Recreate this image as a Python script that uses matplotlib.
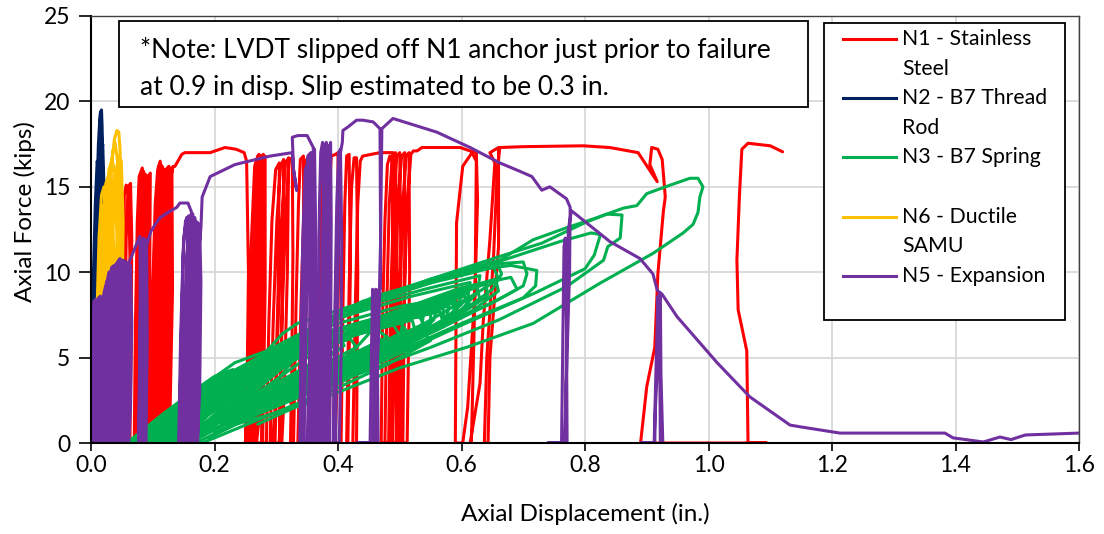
import matplotlib
matplotlib.use("Agg")
import matplotlib.pyplot as plt
from matplotlib.patches import Rectangle
from matplotlib.lines import Line2D
import numpy as np

plt.rcParams['font.family'] = ['Lato', 'DejaVu Sans']

# ---------------------------------------------------------------------------
# Axial displacement (in.) / axial force (kips) traces, one path per anchor
# ---------------------------------------------------------------------------
n1_path = [  # N1 - Stainless Steel
    (0.048, 0), (0.050, 6), (0.052, 11), (0.054, 14.5), (0.057, 15.1), (0.061, 14.8), (0.063, 11), (0.062, 6), (0.059, 0),
    (0.053, 0), (0.055, 7), (0.057, 12), (0.060, 15.0), (0.064, 15.2), (0.066, 12), (0.065, 6), (0.063, 0),
    (0.070, 0), (0.072, 7), (0.075, 13), (0.078, 15.6), (0.083, 16.1), (0.086, 15.4), (0.085, 9), (0.082, 3), (0.079, 0),
    (0.073, 0), (0.076, 8), (0.079, 14), (0.083, 15.8), (0.088, 15.6), (0.089, 9), (0.086, 0),
    (0.074, 0), (0.077, 8), (0.081, 14.5), (0.085, 15.9), (0.089, 15.4), (0.088, 8), (0.084, 0),
    (0.076, 0), (0.079, 7), (0.082, 13), (0.086, 15.6), (0.091, 15.5), (0.092, 9), (0.089, 0),
    (0.078, 0), (0.081, 8), (0.085, 14.5), (0.089, 15.7), (0.093, 15.4), (0.092, 8), (0.088, 0),
    (0.080, 0), (0.083, 8), (0.087, 14), (0.091, 15.5), (0.096, 15.8), (0.095, 9), (0.092, 0),
    (0.082, 0), (0.085, 8), (0.089, 14.5), (0.093, 15.6), (0.095, 9), (0.091, 0),
    (0.096, 0), (0.099, 8), (0.104, 14), (0.108, 16.0), (0.112, 16.5), (0.115, 15.5), (0.113, 8), (0.108, 0),
    (0.098, 0), (0.101, 8), (0.106, 14), (0.110, 16.2), (0.114, 15.6), (0.111, 8), (0.105, 0),
    (0.100, 0), (0.103, 8), (0.108, 14), (0.113, 16.3), (0.118, 16.0), (0.119, 9), (0.114, 0),
    (0.102, 0), (0.106, 8), (0.110, 14), (0.115, 16.2), (0.117, 12), (0.116, 6), (0.111, 0),
    (0.104, 0), (0.108, 9), (0.112, 14.5), (0.117, 16.0), (0.121, 16.0), (0.123, 9), (0.118, 0),
    (0.106, 0), (0.110, 8), (0.114, 14), (0.119, 16.0), (0.121, 12), (0.120, 6), (0.116, 0),
    (0.108, 0), (0.112, 9), (0.117, 15), (0.121, 16.0), (0.126, 16.2), (0.127, 9), (0.122, 0),
    (0.110, 0), (0.114, 8), (0.119, 14), (0.124, 16.0), (0.125, 12), (0.124, 6), (0.120, 0),
    (0.112, 0), (0.116, 9), (0.121, 15), (0.127, 16.0), (0.131, 16.1), (0.132, 9), (0.127, 0),
    (0.114, 0), (0.118, 8), (0.123, 14), (0.128, 16.1), (0.129, 12), (0.128, 6), (0.124, 0),
    (0.116, 0), (0.120, 9), (0.126, 15), (0.133, 16.2), (0.136, 16.2),
    (0.147, 16.9), (0.152, 17.0), (0.193, 17.0), (0.217, 17.3), (0.235, 17.2), (0.248, 17.0),
    (0.252, 16.5), (0.255, 10), (0.253, 4), (0.250, 0), (0.256, 0), (0.260, 6), (0.264, 12), (0.268, 16.5),
    (0.272, 16.9), (0.272, 10), (0.268, 3), (0.262, 0), (0.258, 0), (0.262, 7), (0.268, 13), (0.274, 16.7),
    (0.279, 16.9), (0.278, 10), (0.274, 2), (0.268, 0), (0.263, 0), (0.267, 6), (0.272, 12), (0.277, 16.2),
    (0.282, 16.8), (0.282, 9), (0.278, 0),
    (0.251, 0), (0.255, 6), (0.260, 12), (0.265, 16.2), (0.270, 16.8), (0.269, 10), (0.265, 3), (0.259, 0),
    (0.254, 0), (0.258, 6), (0.263, 12), (0.268, 16.3), (0.274, 16.8), (0.275, 10), (0.271, 2), (0.265, 0),
    (0.260, 0), (0.264, 6), (0.269, 12), (0.274, 16.2), (0.279, 16.7), (0.280, 9), (0.276, 0),
    (0.284, 0), (0.288, 7), (0.293, 13), (0.299, 16.0), (0.305, 16.4), (0.303, 9), (0.298, 2), (0.294, 0),
    (0.290, 0), (0.295, 7), (0.301, 13), (0.307, 16.2), (0.312, 16.6), (0.310, 9), (0.305, 0),
    (0.298, 0), (0.303, 7), (0.309, 13), (0.315, 16.4), (0.320, 16.7), (0.318, 10), (0.313, 3), (0.309, 0),
    (0.305, 0), (0.310, 8), (0.316, 14), (0.321, 16.6), (0.326, 16.7),
    (0.327, 11), (0.325, 4), (0.323, 0), (0.328, 0), (0.332, 8), (0.336, 14), (0.339, 16.6), (0.344, 16.8),
    (0.345, 10), (0.342, 3), (0.338, 0), (0.335, 0), (0.340, 8), (0.345, 14), (0.349, 16.6), (0.354, 16.7),
    (0.356, 10), (0.352, 0),
    (0.368, 0), (0.370, 8), (0.372, 14), (0.376, 16.6), (0.380, 16.8), (0.384, 17.0), (0.388, 10), (0.386, 0),
    (0.378, 0), (0.382, 8), (0.385, 14), (0.389, 16.8), (0.396, 16.9), (0.400, 17.0), (0.401, 10), (0.398, 3), (0.395, 0),
    (0.405, 0), (0.408, 8), (0.411, 14), (0.414, 16.8), (0.418, 16.9), (0.420, 10), (0.416, 0),
    (0.414, 0), (0.418, 9), (0.422, 15), (0.426, 16.7), (0.430, 16.7), (0.432, 10), (0.430, 0),
    (0.424, 0), (0.428, 8), (0.432, 14), (0.436, 16.5), (0.440, 16.8), (0.468, 17.0), (0.489, 17.0),
    (0.490, 10), (0.487, 3), (0.484, 0), (0.470, 0), (0.472, 7), (0.476, 13), (0.480, 16.3), (0.484, 16.8),
    (0.488, 16.5), (0.490, 10), (0.488, 0), (0.476, 0), (0.479, 8), (0.483, 14), (0.488, 16.8), (0.493, 17.0),
    (0.496, 10), (0.494, 0), (0.482, 0), (0.485, 8), (0.490, 14), (0.495, 16.8), (0.500, 17.0), (0.502, 10),
    (0.499, 0), (0.488, 0), (0.492, 8), (0.497, 14), (0.503, 16.8), (0.508, 17.0), (0.508, 10), (0.505, 0),
    (0.495, 0), (0.499, 8), (0.505, 14), (0.510, 16.8), (0.515, 17.0), (0.516, 10), (0.512, 0),
    (0.502, 0), (0.507, 8), (0.512, 14), (0.518, 16.9), (0.522, 17.1), (0.528, 17.1), (0.536, 17.3),
    (0.598, 17.3), (0.614, 17.1),
    (0.624, 17.0), (0.626, 14.2), (0.622, 9.0), (0.610, 2.1), (0.602, 0), (0.590, 0), (0.591, 6),
    (0.592, 12.9), (0.602, 16.2), (0.617, 17.0),
    (0.624, 16.5), (0.622, 9), (0.616, 0), (0.614, 0), (0.630, 3.5), (0.635, 7.0), (0.646, 11.9),
    (0.654, 16.4), (0.646, 17.0), (0.660, 17.3), (0.660, 11.5), (0.646, 5.0), (0.643, 0), (0.637, 0),
    (0.641, 5), (0.652, 11), (0.658, 16), (0.662, 17.3),
    (0.700, 17.35), (0.797, 17.4), (0.840, 17.3), (0.886, 17.0), (0.917, 15.3), (0.905, 16.3),
    (0.908, 17.3), (0.918, 17.2), (0.925, 16.6), (0.930, 14.4), (0.927, 13.6), (0.918, 9.9),
    (0.913, 5.6), (0.900, 3.3), (0.890, 0), (1.094, 0), (1.064, 0), (1.062, 5.4), (1.048, 7.8),
    (1.046, 10.7), (1.050, 14.4), (1.054, 17.2), (1.064, 17.55), (1.100, 17.4), (1.120, 17.05),
]

n2_path = [  # N2 - B7 Thread Rod
    (0.000, 0), (0.003, 5), (0.006, 9), (0.008, 12), (0.010, 11), (0.009, 6), (0.006, 2), (0.004, 0),
    (0.001, 4), (0.004, 10), (0.007, 14), (0.010, 16.5), (0.012, 16), (0.010, 11), (0.006, 5), (0.003, 0),
    (0.002, 0), (0.005, 6), (0.008, 11), (0.011, 14), (0.013, 13.5), (0.012, 9), (0.009, 4), (0.006, 0),
    (0.003, 0), (0.006, 7), (0.010, 12.5), (0.013, 16), (0.015, 15.5), (0.014, 11), (0.011, 5), (0.008, 0),
    (0.006, 0), (0.010, 8), (0.013, 13), (0.016, 16.5), (0.019, 17.5), (0.021, 15), (0.021, 11), (0.018, 6),
    (0.014, 1.5), (0.010, 0),
    (0.004, 0), (0.008, 8), (0.011, 13), (0.014, 17), (0.016, 18.5), (0.017, 17), (0.016, 12), (0.013, 6),
    (0.009, 1), (0.002, 2), (0.005, 9), (0.009, 14), (0.012, 17.5), (0.014, 18.8), (0.016, 19.4), (0.018, 17),
    (0.020, 13), (0.022, 10), (0.020, 6), (0.016, 2), (0.012, 0),
    (0.005, 0), (0.009, 8), (0.012, 13), (0.014, 17), (0.015, 19.3), (0.017, 19.5),
    (0.018, 18.5), (0.019, 15), (0.018, 11), (0.015, 6), (0.011, 1.5), (0.008, 0),
]

n3_loops = [  # N3 - B7 Spring, one list per cycle
    [(0.060, 0), (0.100, 1.2), (0.160, 2.9), (0.200, 3.9), (0.230, 4.3), (0.200, 3.2), (0.140, 1.5), (0.100, 0.3)],
    [(0.062, 0), (0.120, 1.6), (0.180, 3.0), (0.240, 4.2), (0.270, 4.0), (0.220, 2.6), (0.150, 0.8), (0.110, 0)],
    [(0.064, 0), (0.110, 1.4), (0.170, 2.8), (0.220, 3.9), (0.250, 4.3), (0.240, 3.6), (0.190, 2.2), (0.130, 0.6), (0.100, 0)],
    [(0.068, 0), (0.130, 1.9), (0.190, 3.3), (0.260, 4.5), (0.290, 4.9), (0.270, 4.1), (0.210, 2.6), (0.150, 1.0), (0.110, 0)],
    [(0.060, 0), (0.140, 2.3), (0.220, 4.0), (0.300, 5.2), (0.320, 4.6), (0.250, 3.0), (0.160, 1.0), (0.120, 0)],
    [(0.080, 0), (0.140, 2.1), (0.200, 3.7), (0.270, 4.9), (0.310, 5.5), (0.300, 4.7), (0.240, 3.2), (0.170, 1.5), (0.120, 0.2)],
    [(0.075, 0), (0.130, 1.7), (0.200, 3.4), (0.280, 4.8), (0.340, 5.6), (0.350, 5.0), (0.280, 3.2), (0.190, 1.2), (0.130, 0)],
    [(0.078, 0), (0.140, 1.8), (0.210, 3.3), (0.300, 4.8), (0.360, 5.5), (0.370, 4.9), (0.300, 3.5), (0.210, 1.8), (0.140, 0.2)],
    [(0.065, 0), (0.150, 2.5), (0.250, 4.5), (0.360, 5.9), (0.380, 5.2), (0.300, 3.4), (0.200, 1.3), (0.130, 0)],
    [(0.090, 0), (0.170, 2.6), (0.260, 4.4), (0.340, 5.4), (0.300, 3.6), (0.200, 1.5), (0.140, 0)],
    [(0.085, 0), (0.150, 2.0), (0.230, 3.7), (0.320, 5.2), (0.390, 6.1), (0.400, 5.5), (0.330, 3.9), (0.230, 1.9), (0.150, 0.2)],
    [(0.070, 0), (0.160, 2.7), (0.280, 5.0), (0.400, 6.4), (0.410, 5.7), (0.330, 3.8), (0.220, 1.6), (0.140, 0)],
    [(0.100, 0), (0.190, 2.9), (0.290, 4.8), (0.380, 5.9), (0.400, 5.4), (0.320, 3.6), (0.220, 1.7), (0.160, 0)],
    [(0.088, 0), (0.150, 1.8), (0.230, 3.5), (0.320, 4.9), (0.420, 6.1), (0.430, 5.6), (0.360, 4.3), (0.260, 2.6), (0.170, 0.8)],
    [(0.095, 0), (0.160, 2.0), (0.250, 3.9), (0.350, 5.5), (0.450, 6.6), (0.470, 6.0), (0.380, 4.4), (0.270, 2.5), (0.170, 0.5)],
    [(0.060, 0), (0.150, 2.6), (0.250, 4.6), (0.360, 6.3), (0.440, 7.0), (0.450, 6.4), (0.420, 5.2), (0.330, 3.6), (0.220, 1.6), (0.150, 0)],
    [(0.098, 0), (0.170, 2.1), (0.260, 3.9), (0.360, 5.5), (0.460, 6.7), (0.480, 6.2), (0.400, 4.8), (0.290, 3.0), (0.190, 1.2)],
    [(0.160, 0), (0.220, 1.2), (0.300, 2.6), (0.400, 4.3), (0.480, 5.7), (0.500, 5.6), (0.440, 4.2), (0.340, 2.4), (0.240, 0.9), (0.180, 0)],
    [(0.105, 0), (0.180, 2.3), (0.280, 4.3), (0.390, 6.0), (0.490, 6.9), (0.500, 6.3), (0.420, 4.9), (0.310, 3.1), (0.190, 0.9)],
    [(0.070, 0), (0.160, 2.7), (0.270, 4.9), (0.390, 6.6), (0.505, 7.0), (0.500, 6.2), (0.470, 5.3), (0.360, 3.6), (0.240, 1.6), (0.160, 0)],
    [(0.108, 0), (0.190, 2.5), (0.290, 4.4), (0.400, 6.0), (0.500, 7.1), (0.510, 6.6), (0.440, 5.3), (0.330, 3.5), (0.210, 1.5)],
    [(0.120, 0), (0.200, 2.6), (0.310, 4.7), (0.420, 6.3), (0.520, 7.2), (0.525, 6.6), (0.450, 5.2), (0.340, 3.4), (0.210, 1.2)],
    [(0.190, 0.3), (0.270, 1.7), (0.360, 3.3), (0.460, 5.0), (0.540, 6.4), (0.550, 6.0), (0.480, 4.6), (0.380, 2.9), (0.270, 1.1)],
    [(0.118, 0), (0.210, 2.8), (0.320, 4.8), (0.430, 6.4), (0.530, 7.5), (0.540, 6.9), (0.470, 5.6), (0.360, 3.9), (0.240, 1.9)],
    [(0.080, 0), (0.180, 3.0), (0.300, 5.3), (0.430, 6.9), (0.538, 7.4), (0.535, 6.7), (0.500, 5.8), (0.400, 4.2), (0.270, 2.1), (0.170, 0.3)],
    [(0.130, 0), (0.220, 2.9), (0.330, 5.0), (0.450, 6.7), (0.550, 7.6), (0.550, 7.0), (0.480, 5.7), (0.370, 3.8), (0.240, 1.6)],
    [(0.128, 0), (0.230, 3.2), (0.350, 5.3), (0.470, 6.9), (0.565, 7.7), (0.570, 7.1), (0.500, 5.9), (0.390, 4.1), (0.260, 2.2)],
    [(0.090, 0), (0.200, 3.4), (0.330, 5.8), (0.460, 7.3), (0.560, 7.9), (0.555, 7.2), (0.520, 6.2), (0.420, 4.5), (0.300, 2.6), (0.190, 0.6)],
    [(0.140, 0), (0.240, 3.3), (0.360, 5.5), (0.480, 7.1), (0.570, 7.9), (0.572, 7.2), (0.510, 6.1), (0.400, 4.2), (0.270, 2.0)],
    [(0.100, 0), (0.220, 3.8), (0.350, 6.2), (0.480, 7.5), (0.580, 8.0), (0.575, 7.3), (0.550, 6.5), (0.450, 4.9), (0.330, 3.0), (0.200, 0.8)],
    [(0.138, 0), (0.250, 3.5), (0.380, 5.8), (0.500, 7.4), (0.585, 8.2), (0.590, 7.5), (0.530, 6.3), (0.420, 4.5), (0.290, 2.6)],
    [(0.150, 0), (0.260, 3.6), (0.390, 6.0), (0.510, 7.6), (0.590, 8.3), (0.594, 7.6), (0.540, 6.6), (0.430, 4.7), (0.290, 2.3)],
    [(0.110, 0), (0.240, 4.2), (0.370, 6.7), (0.500, 8.0), (0.600, 8.6), (0.590, 7.8), (0.560, 6.9), (0.460, 5.1), (0.340, 3.1), (0.220, 1.0)],
    [(0.148, 0), (0.270, 3.9), (0.410, 6.3), (0.530, 7.9), (0.605, 8.6), (0.610, 7.9), (0.560, 6.8), (0.450, 4.9), (0.310, 2.9)],
    [(0.160, 0), (0.280, 4.0), (0.420, 6.5), (0.540, 8.1), (0.610, 8.8), (0.612, 8.1), (0.570, 7.1), (0.460, 5.1), (0.320, 2.7)],
    [(0.110, 0.3), (0.250, 4.5), (0.390, 7.2), (0.520, 8.6), (0.614, 9.4), (0.610, 8.5), (0.580, 7.4), (0.480, 5.4), (0.360, 3.4), (0.230, 1.3)],
    [(0.158, 0.2), (0.290, 4.2), (0.430, 6.8), (0.560, 8.4), (0.625, 9.1), (0.630, 8.4), (0.590, 7.3), (0.480, 5.3), (0.340, 3.2)],
    [(0.170, 0.2), (0.300, 4.3), (0.440, 6.9), (0.570, 8.6), (0.640, 9.3), (0.642, 8.6), (0.600, 7.6), (0.490, 5.6), (0.350, 3.2)],
    [(0.120, 0.5), (0.260, 4.8), (0.400, 7.6), (0.540, 9.0), (0.630, 9.8), (0.625, 8.8), (0.600, 7.8), (0.500, 5.7), (0.380, 3.8), (0.250, 1.7)],
    [(0.168, 0.4), (0.310, 4.6), (0.460, 7.3), (0.590, 8.9), (0.655, 9.6), (0.660, 8.9), (0.620, 7.8), (0.510, 5.7), (0.370, 3.5)],
    [(0.180, 0.4), (0.320, 4.7), (0.470, 7.4), (0.600, 9.1), (0.680, 9.7), (0.690, 9.0), (0.650, 8.2), (0.530, 6.2), (0.380, 3.7)],
    [(0.130, 0.8), (0.270, 5.0), (0.420, 7.9), (0.560, 9.5), (0.659, 10.4), (0.665, 9.9), (0.650, 9.0), (0.620, 8.2), (0.520, 6.0), (0.400, 4.0), (0.270, 2.0)],
    [(0.058, 0), (0.120, 1.8), (0.233, 4.7), (0.285, 5.4), (0.310, 6.4), (0.334, 7.0), (0.420, 8.0), (0.517, 9.1), (0.600, 9.8),
     (0.652, 10.3), (0.660, 9.6), (0.630, 8.9), (0.540, 7.0), (0.420, 4.9), (0.290, 2.7), (0.180, 0.7)],
    [(0.140, 1.2), (0.280, 5.3), (0.440, 8.3), (0.580, 9.8), (0.662, 10.5), (0.700, 10.6), (0.706, 9.9), (0.700, 9.2), (0.670, 8.6), (0.560, 6.6), (0.420, 4.3), (0.290, 2.3)],
    [(0.150, 1.5), (0.300, 5.6), (0.460, 8.6), (0.600, 10.0), (0.680, 10.4), (0.722, 10.1), (0.720, 9.2), (0.700, 8.5), (0.600, 7.0), (0.450, 4.6), (0.300, 2.3)],
    [(0.170, 1.8), (0.320, 6.0), (0.500, 8.8), (0.650, 10.5), (0.760, 11.8), (0.810, 12.3), (0.825, 12.2), (0.815, 11.0), (0.800, 10.2),
     (0.720, 8.8), (0.600, 6.9), (0.480, 4.9), (0.300, 2.3), (0.200, 0.6)],
    [(0.200, 2.0), (0.350, 6.6), (0.500, 9.0), (0.660, 10.9), (0.730, 11.7), (0.800, 12.9), (0.835, 13.4), (0.860, 13.35), (0.857, 12.0),
     (0.837, 11.5), (0.830, 10.7), (0.770, 9.15), (0.660, 7.2), (0.550, 5.6), (0.400, 3.6), (0.250, 1.4)],
    [(0.220, 2.4), (0.400, 7.5), (0.550, 9.6), (0.662, 10.7), (0.716, 11.9), (0.770, 12.6), (0.820, 13.2), (0.862, 13.75), (0.884, 13.9),
     (0.900, 14.6), (0.938, 15.1), (0.970, 15.5), (0.983, 15.5), (0.991, 15.0), (0.986, 14.4), (0.983, 13.5), (0.975, 12.8), (0.959, 12.3),
     (0.910, 11.1), (0.824, 9.35), (0.716, 7.0), (0.608, 5.6), (0.500, 4.4), (0.360, 2.4), (0.225, 1.0), (0.170, 0)],
]

n6_path = [  # N6 - Ductile SAMU
    (0.018, 0), (0.020, 5), (0.023, 9), (0.027, 12.5), (0.031, 15.5), (0.035, 17.0), (0.039, 17.6), (0.043, 16.5),
    (0.045, 13), (0.043, 9), (0.038, 5), (0.031, 1.5), (0.025, 0),
    (0.020, 0), (0.022, 6), (0.026, 10), (0.030, 13.5), (0.034, 16.5), (0.038, 17.8), (0.042, 18.3), (0.045, 18.2),
    (0.047, 17.2), (0.048, 14.5), (0.046, 10.5), (0.042, 6.5), (0.036, 3), (0.029, 0.5),
    (0.016, 2), (0.018, 7), (0.021, 11), (0.025, 14), (0.029, 16), (0.034, 16.6), (0.039, 15.8), (0.042, 12),
    (0.040, 8), (0.035, 4.5), (0.028, 2),
    (0.013, 4), (0.016, 9), (0.020, 13), (0.024, 15.2), (0.029, 15.7), (0.034, 14.5), (0.037, 11), (0.035, 7),
    (0.030, 4), (0.024, 2.5),
    (0.012, 6), (0.015, 10.5), (0.019, 13.5), (0.024, 14.5), (0.030, 13.5), (0.033, 10.5), (0.031, 7.5), (0.026, 5),
    (0.020, 4), (0.022, 0), (0.025, 7), (0.030, 12), (0.036, 15.2), (0.041, 16.0), (0.046, 15.2), (0.048, 12),
    (0.047, 8), (0.044, 4), (0.040, 0),
    (0.026, 0), (0.029, 6), (0.033, 11), (0.038, 14.8), (0.044, 16.8), (0.049, 16.5), (0.052, 13), (0.051, 9),
    (0.048, 5), (0.044, 1), (0.010, 8), (0.013, 12), (0.017, 14.5), (0.021, 15.0), (0.025, 13), (0.023, 9),
    (0.018, 6),
]

n5_path = [  # N5 - Expansion
    (0.000, 0), (0.001, 4), (0.003, 7.5), (0.007, 8.4), (0.010, 8.0), (0.012, 5), (0.011, 0),
    (0.000, 1), (0.002, 6), (0.005, 8.3), (0.008, 7), (0.007, 2), (0.005, 0),
    (0.002, 0), (0.004, 5), (0.008, 8.2), (0.012, 8.5), (0.015, 7.8), (0.016, 4), (0.014, 0),
    (0.003, 0), (0.005, 4), (0.009, 8.0), (0.013, 8.4), (0.014, 5), (0.012, 0),
    (0.004, 0), (0.007, 5), (0.011, 8.3), (0.015, 8.6), (0.018, 7), (0.019, 3), (0.017, 0),
    (0.006, 0), (0.009, 5), (0.013, 8.2), (0.017, 8.5), (0.019, 6), (0.018, 2), (0.016, 0),
    (0.001, 2), (0.003, 6), (0.006, 8.1), (0.009, 6), (0.008, 1),
    (0.008, 0), (0.011, 5), (0.016, 8.4), (0.020, 8.6), (0.022, 6), (0.021, 0),
    (0.012, 0), (0.016, 5), (0.021, 8.8), (0.026, 9.5), (0.028, 7), (0.027, 2), (0.024, 0),
    (0.015, 0), (0.019, 5), (0.024, 9.0), (0.029, 10.0), (0.032, 8), (0.031, 3), (0.028, 0),
    (0.018, 0), (0.021, 5), (0.025, 8.5), (0.030, 9.6), (0.034, 10.3), (0.038, 10.4), (0.040, 8), (0.039, 3), (0.036, 0),
    (0.021, 0), (0.024, 5), (0.029, 9.2), (0.033, 10.2), (0.036, 8), (0.035, 3), (0.032, 0),
    (0.024, 0), (0.027, 6), (0.031, 9.5), (0.036, 10.2), (0.041, 10.5), (0.044, 8), (0.043, 3), (0.040, 0),
    (0.027, 0), (0.030, 5), (0.034, 9.5), (0.039, 10.3), (0.042, 8), (0.041, 3), (0.038, 0),
    (0.030, 0), (0.033, 6), (0.037, 9.8), (0.043, 10.6), (0.047, 10.8), (0.049, 8), (0.048, 3), (0.045, 0),
    (0.033, 0), (0.036, 5), (0.040, 9.6), (0.045, 10.6), (0.048, 8), (0.047, 3), (0.043, 0),
    (0.036, 0), (0.039, 6), (0.044, 10.0), (0.049, 10.6), (0.053, 10.7), (0.055, 8), (0.053, 3), (0.050, 0),
    (0.039, 0), (0.042, 5), (0.047, 10.0), (0.051, 10.7), (0.054, 8), (0.053, 3), (0.049, 0),
    (0.042, 0), (0.046, 6), (0.050, 10.0), (0.055, 10.6), (0.059, 10.5), (0.061, 7), (0.059, 2), (0.056, 0),
    (0.045, 0), (0.048, 5), (0.053, 10.1), (0.057, 10.6), (0.060, 8), (0.059, 3), (0.055, 0),
    (0.053, 0), (0.056, 5), (0.060, 10.0), (0.064, 10.4), (0.066, 7), (0.064, 2), (0.061, 0),
    (0.050, 0), (0.054, 6), (0.058, 10.2), (0.063, 10.7),
    (0.079, 12.1), (0.080, 8), (0.079, 3), (0.077, 0), (0.080, 0), (0.082, 6), (0.084, 11.5), (0.087, 11.9),
    (0.088, 7), (0.086, 0), (0.077, 0), (0.079, 6), (0.081, 11.8), (0.085, 12.0), (0.086, 6), (0.084, 0),
    (0.081, 0), (0.084, 6), (0.087, 11.9), (0.090, 11.9), (0.091, 6), (0.089, 0),
    (0.083, 0), (0.086, 6), (0.089, 11.5), (0.092, 11.8),
    (0.097, 12.4), (0.104, 12.8), (0.112, 13.2), (0.125, 13.5), (0.139, 13.8), (0.144, 14.05), (0.157, 14.05), (0.163, 13.5),
    (0.161, 8), (0.157, 2), (0.154, 0), (0.142, 0), (0.145, 6), (0.149, 11), (0.153, 13.0), (0.158, 13.3),
    (0.162, 9), (0.160, 0), (0.143, 0), (0.146, 6), (0.150, 12.0), (0.155, 13.2), (0.159, 9), (0.157, 0),
    (0.147, 0), (0.150, 6), (0.155, 11), (0.160, 13.2), (0.165, 13.4), (0.167, 9), (0.165, 0),
    (0.149, 0), (0.152, 6), (0.157, 12), (0.162, 13.4), (0.164, 9), (0.162, 0),
    (0.152, 0), (0.156, 6), (0.161, 11.5), (0.166, 13.0), (0.170, 13.0), (0.172, 8), (0.169, 0),
    (0.156, 0), (0.159, 6), (0.164, 12), (0.168, 13.2), (0.170, 9), (0.167, 0),
    (0.158, 0), (0.162, 6), (0.167, 11.5), (0.172, 12.8), (0.176, 12.6), (0.178, 9.5), (0.176, 3), (0.172, 0),
    (0.161, 0), (0.165, 6), (0.169, 12), (0.173, 12.9), (0.175, 8), (0.173, 0),
    (0.165, 0), (0.169, 6), (0.174, 11), (0.178, 12.6),
    (0.180, 14.4), (0.193, 15.6), (0.233, 16.3), (0.290, 16.8), (0.326, 17.0), (0.328, 16.0), (0.333, 14.8),
    (0.328, 16.0), (0.326, 17.9), (0.335, 18.0), (0.350, 18.0), (0.360, 17.3),
    (0.359, 12), (0.356, 5), (0.353, 0), (0.338, 0), (0.340, 6), (0.343, 12), (0.347, 16), (0.352, 16.5),
    (0.355, 12), (0.354, 5), (0.350, 0), (0.342, 0), (0.345, 7), (0.349, 13), (0.354, 16.5), (0.358, 16.8),
    (0.361, 12), (0.360, 4), (0.357, 0), (0.340, 0), (0.343, 7), (0.347, 13), (0.351, 16.8), (0.356, 17.0),
    (0.357, 11), (0.355, 3), (0.352, 0), (0.345, 0), (0.349, 8), (0.353, 14), (0.358, 16.8), (0.362, 17.2),
    (0.364, 12), (0.362, 0),
    (0.366, 0), (0.368, 8), (0.370, 14), (0.372, 17.0), (0.375, 17.6), (0.377, 13), (0.376, 5), (0.373, 0),
    (0.370, 0), (0.373, 8), (0.376, 14), (0.378, 17.2), (0.381, 17.6), (0.383, 13), (0.382, 5), (0.379, 0),
    (0.373, 0), (0.376, 8), (0.379, 14), (0.382, 17.0), (0.385, 17.4), (0.386, 12), (0.385, 4), (0.382, 0),
    (0.377, 0), (0.380, 8), (0.383, 14), (0.385, 17.2), (0.388, 17.6), (0.389, 13), (0.388, 5), (0.386, 0),
    (0.392, 0), (0.395, 8), (0.398, 14), (0.401, 17.0), (0.404, 17.2), (0.406, 12), (0.405, 5), (0.402, 0),
    (0.396, 0), (0.399, 8), (0.402, 14), (0.404, 17.0), (0.407, 17.6), (0.408, 18.3), (0.416, 18.5),
    (0.430, 18.9), (0.440, 18.9), (0.457, 18.8), (0.468, 18.4),
    (0.469, 12), (0.468, 9), (0.463, 4), (0.460, 0), (0.430, 0), (0.452, 0), (0.454, 5), (0.456, 9),
    (0.459, 8.5), (0.461, 4), (0.462, 0), (0.457, 0), (0.459, 5), (0.461, 9), (0.463, 8.9), (0.464, 4),
    (0.465, 0), (0.462, 0), (0.464, 5), (0.466, 9), (0.468, 9), (0.471, 18.4),
    (0.489, 19.0), (0.560, 18.2), (0.614, 17.3), (0.662, 16.4), (0.695, 15.9), (0.714, 15.6), (0.730, 14.8),
    (0.743, 15.0), (0.770, 14.3), (0.776, 13.8),
    (0.775, 10), (0.770, 4), (0.767, 0), (0.740, 0), (0.762, 0), (0.764, 6), (0.766, 11.5), (0.768, 12),
    (0.770, 7), (0.771, 0), (0.768, 0), (0.770, 6), (0.773, 12.5), (0.778, 13.6),
    (0.840, 11.8), (0.889, 10.8), (0.910, 9.9), (0.917, 8.95), (0.921, 8.8),
    (0.918, 5), (0.914, 2), (0.913, 0), (0.890, 0), (0.912, 0), (0.914, 3), (0.917, 7), (0.918, 8.6),
    (0.921, 5), (0.922, 0), (0.926, 0), (0.923, 4), (0.922, 8.8), (0.925, 8.7),
    (0.949, 7.4), (1.014, 4.7), (1.067, 2.7), (1.132, 1.05), (1.148, 0.95), (1.213, 0.58), (1.383, 0.58),
    (1.396, 0.3), (1.445, 0.06), (1.472, 0.35), (1.490, 0.2), (1.513, 0.47), (1.600, 0.58),
]

series_labels = ["N1 - Stainless\nSteel", "N2 - B7 Thread\nRod", "N3 - B7 Spring\n",
                 "N6 - Ductile\nSAMU", "N5 - Expansion\n"]
series_colors = ["#FF0000", "#002060", "#00B050", "#FFC000", "#7030A0"]

x_ticks = [0.0, 0.2, 0.4, 0.6, 0.8, 1.0, 1.2, 1.4, 1.6]
y_ticks = [0, 5, 10, 15, 20, 25]

note_text = ("*Note: LVDT slipped off N1 anchor just prior to failure\n"
             "at 0.9 in disp. Slip estimated to be 0.3 in.")

# ---------------------------------------------------------------------------
W, H = 1104, 534
fig = plt.figure(figsize=(W / 100, H / 100), dpi=100)
ax = fig.add_axes([91 / W, (H - 443) / H, 988 / W, 427 / H])


def fpos(px, py):
    """Pixel position (from top-left) to figure fraction."""
    return px / W, 1 - py / H


lw = 2.2
style = dict(lw=lw, solid_joinstyle='round', solid_capstyle='round')

p = np.array(n1_path)
ax.plot(p[:, 0], p[:, 1], color=series_colors[0], **style)
p = np.array(n2_path)
ax.plot(p[:, 0], p[:, 1], color=series_colors[1], **style)
for loop in n3_loops:
    p = np.array(loop)
    ax.plot(p[:, 0], p[:, 1], color=series_colors[2], **style)
p = np.array(n6_path)
ax.plot(p[:, 0], p[:, 1], color=series_colors[3], **style)
p = np.array(n5_path)
ax.plot(p[:, 0], p[:, 1], color=series_colors[4], **style)

ax.set_xlim(0, 1.6)
ax.set_ylim(0, 25)
ax.set_xticks(x_ticks)
ax.set_yticks(y_ticks)
ax.set_xticklabels([f"{v:.1f}" for v in x_ticks])
ax.set_yticklabels([f"{v:d}" for v in y_ticks])
ax.tick_params(axis='x', direction='out', length=5.5, width=1.2, labelsize=16.5, pad=3)
ax.tick_params(axis='y', direction='out', length=9, width=1.2, labelsize=16.5, pad=6)
ax.grid(True, color='#D9D9D9', lw=1.3)
ax.set_axisbelow(True)
for side in ['left', 'bottom']:
    ax.spines[side].set_linewidth(1.5)
    ax.spines[side].set_color('black')
for side in ['top', 'right']:
    ax.spines[side].set_linewidth(1.0)
    ax.spines[side].set_color('#404040')

ax.set_xlabel("Axial Displacement (in.)", fontsize=17.5)
ax.set_ylabel("Axial Force (kips)", fontsize=17.5)
ax.xaxis.set_label_coords((585 - 91) / 988, (443 - 503) / 427)
ax.yaxis.set_label_coords((36 - 91) / 988, (443 - 212) / 427)

# Note box
x0, y1 = fpos(119, 107)
x1, y0 = fpos(808, 21)
fig.patches.append(Rectangle((x0, y1), x1 - x0, y0 - y1, transform=fig.transFigure,
                             facecolor='white', edgecolor='black', lw=1.3, zorder=5))
for k, line in enumerate(note_text.split("\n")):
    tx, ty = fpos(140, 50 + 37 * k)
    fig.text(tx, ty, line, fontsize=19, va='center', ha='left', zorder=6)

# Legend box
x0, y1 = fpos(824, 320)
x1, y0 = fpos(1065, 23)
fig.patches.append(Rectangle((x0, y1), x1 - x0, y0 - y1, transform=fig.transFigure,
                             facecolor='white', edgecolor='black', lw=1.3, zorder=5))
row_h = 29.6
for i, (lab, col) in enumerate(zip(series_labels, series_colors)):
    yc = 39 + 2 * i * row_h
    hx0, hy = fpos(843, yc)
    hx1, _ = fpos(896, yc)
    fig.lines.append(Line2D([hx0, hx1], [hy, hy], transform=fig.transFigure, color=col, lw=lw, zorder=6))
    first, *rest = lab.split("\n")
    tx, ty = fpos(902, yc)
    fig.text(tx, ty, first, fontsize=15.3, va='center', ha='left', zorder=6)
    if rest and rest[0]:
        tx2, ty2 = fpos(902, yc + row_h)
        fig.text(tx2, ty2, rest[0], fontsize=15.3, va='center', ha='left', zorder=6)

fig.savefig("out.png", dpi=100)
